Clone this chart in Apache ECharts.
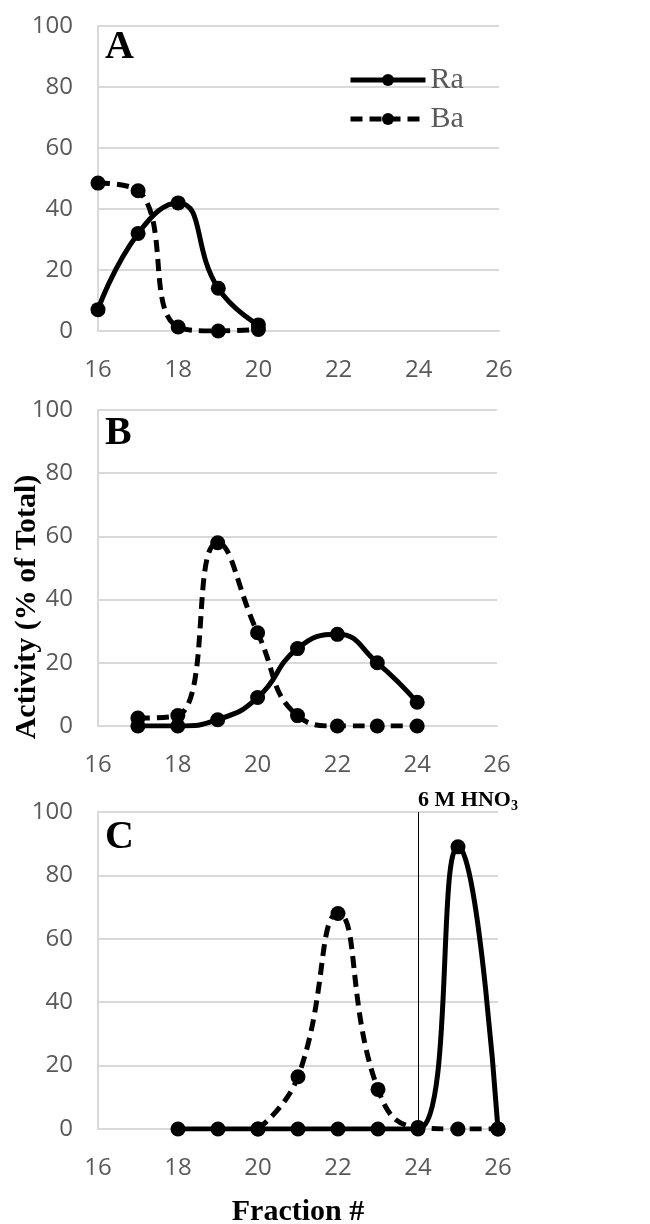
<!DOCTYPE html>
<html>
<head>
<meta charset="utf-8">
<script src="https://cdn.jsdelivr.net/npm/echarts@6/dist/echarts.min.js"></script>
<style>
  html, body { margin: 0; padding: 0; background: #fff; }
  #chart { width: 650px; height: 1224px; }
</style>
</head>
<body>
<div id="chart"></div>
<script>
// panel A
var fractionsA = [16, 17, 18, 19, 20];
var raA = [7, 32, 42, 14, 2];
var baA = [48.5, 46, 1.3, 0, 0.5];
// panel B
var fractionsB = [17, 18, 19, 20, 21, 22, 23, 24];
var raB = [0, 0, 2, 9, 24.5, 29, 20, 7.5];
var baB = [2.5, 3.3, 58, 29.5, 3.3, 0, 0, 0];
// panel C
var fractionsC = [18, 19, 20, 21, 22, 23, 24, 25, 26];
var raC = [0, 0, 0, 0, 0, 0, 0, 89, 0];
var fractionsCBa = [20, 21, 22, 23, 24, 25, 26];
var baC = [0, 16.5, 68, 12.5, 0.5, 0, 0];

var xTicks = { min: 16, max: 26, interval: 2 };
var yTicks = { min: 0, max: 100, interval: 20 };

function pairs(xs, ys) {
    return xs.map(function(x, i) { return [x, ys[i]]; });
}

var gray = '#595959';
var gridGray = '#d9d9d9';
var axisFont = { fontFamily: 'Open Sans', fontSize: 24, color: gray };

function xAx(idx) {
    return {
        type: 'value', gridIndex: idx,
        min: xTicks.min, max: xTicks.max, interval: xTicks.interval,
        axisLine: { show: true, onZero: false, lineStyle: { color: gridGray, width: 2 } },
        axisTick: { show: false },
        splitLine: { show: false },
        axisLabel: Object.assign({ margin: 27 }, axisFont)
    };
}
function yAx(idx) {
    return {
        type: 'value', gridIndex: idx,
        min: yTicks.min, max: yTicks.max, interval: yTicks.interval,
        axisLine: { show: true, lineStyle: { color: gridGray, width: 2 } },
        axisTick: { show: false },
        splitLine: { show: true, lineStyle: { color: gridGray, width: 2 } },
        axisLabel: Object.assign({ margin: 25 }, axisFont)
    };
}

function ser(name, idx, data, dashed) {
    return {
        name: name, type: 'line', xAxisIndex: idx, yAxisIndex: idx,
        data: data, smooth: 0.5,
        symbol: 'circle', symbolSize: 15,
        itemStyle: { color: '#000' },
        lineStyle: { color: '#000', width: 5, type: dashed ? [12, 7] : 'solid' },
        z: dashed ? 3 : 2
    };
}

var chart = echarts.init(document.getElementById('chart'));
var option = {
    animation: false,
    backgroundColor: '#fff',
    grid: [
        { left: 98, width: 401, top: 26, height: 305, outerBoundsMode: 'none' },
        { left: 98, width: 399, top: 410, height: 316, outerBoundsMode: 'none' },
        { left: 98, width: 400, top: 812, height: 317, outerBoundsMode: 'none' }
    ],
    xAxis: [xAx(0), xAx(1), Object.assign(xAx(2), {
        name: 'Fraction #', nameLocation: 'middle', nameGap: 68,
        nameTextStyle: { fontFamily: 'Liberation Serif', fontWeight: 'bold', fontSize: 30, color: '#000' }
    })],
    yAxis: [yAx(0), yAx(1), yAx(2)],
    legend: {
        data: ['Ra', 'Ba'],
        orient: 'vertical',
        left: 343, top: 60,
        itemWidth: 75, itemHeight: 15, itemGap: 9,
        lineStyle: { width: 5 },
        textStyle: { fontFamily: 'Liberation Serif', fontSize: 30, color: gray, lineHeight: 30 }
    },
    series: [
        ser('Ra', 0, pairs(fractionsA, raA), false),
        ser('Ba', 0, pairs(fractionsA, baA), true),
        ser('Ra', 1, pairs(fractionsB, raB), false),
        ser('Ba', 1, pairs(fractionsB, baB), true),
        Object.assign(ser('Ra', 2, pairs(fractionsC, raC), false), {
            markLine: {
                silent: true, symbol: 'none',
                lineStyle: { color: '#000', width: 1, type: 'solid' },
                label: { show: false },
                data: [{ xAxis: 24 }]
            }
        }),
        ser('Ba', 2, pairs(fractionsCBa, baC), true)
    ],
    graphic: [
        { type: 'text', left: 105, top: 28, style: { text: 'A', font: 'bold 40px "Liberation Serif"', fill: '#000' } },
        { type: 'text', left: 105, top: 414, style: { text: 'B', font: 'bold 40px "Liberation Serif"', fill: '#000' } },
        { type: 'text', left: 105, top: 818, style: { text: 'C', font: 'bold 40px "Liberation Serif"', fill: '#000' } },
        {
            type: 'text', x: 27, y: 607, rotation: Math.PI / 2,
            style: {
                text: 'Activity (% of Total)', font: 'bold 30px "Liberation Serif"', fill: '#000',
                align: 'center', verticalAlign: 'middle'
            }
        },
        {
            type: 'text', left: 418, top: 789,
            style: {
                text: '{a|6 M HNO}{s|3}',
                rich: {
                    a: { fontFamily: 'Liberation Serif', fontWeight: 'bold', fontSize: 22, fill: '#000', color: '#000' },
                    s: { fontFamily: 'Liberation Serif', fontWeight: 'bold', fontSize: 14, fill: '#000', color: '#000', padding: [12, 0, 0, 0] }
                }
            }
        }
    ]
};
chart.setOption(option);
</script>
</body>
</html>
